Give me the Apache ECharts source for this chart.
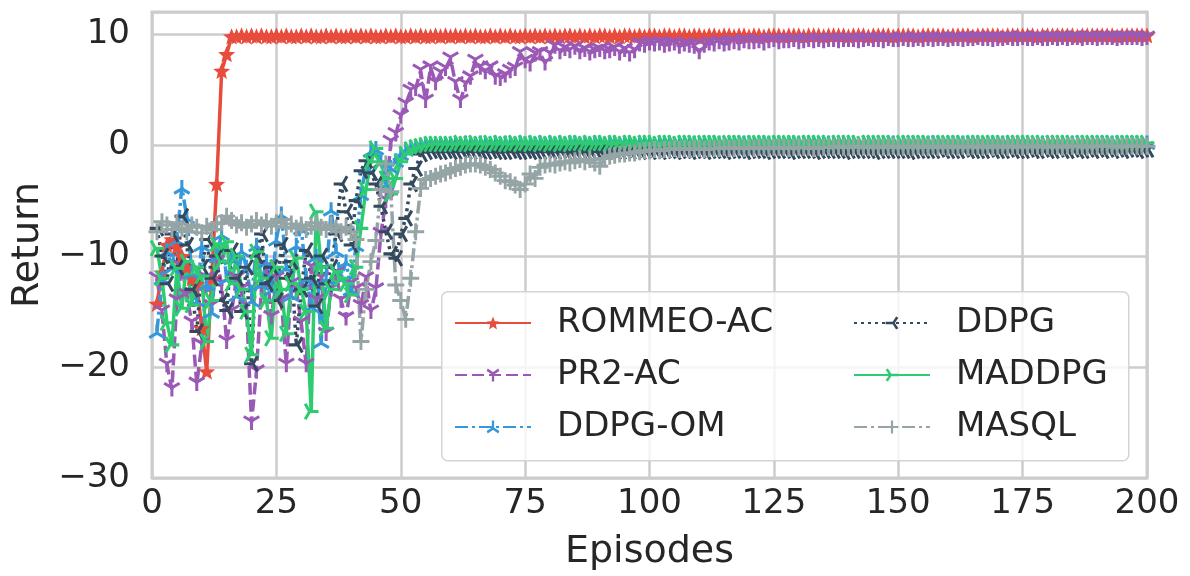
<!DOCTYPE html>
<html>
<head>
<meta charset="utf-8">
<script src="https://cdn.jsdelivr.net/npm/echarts@6/dist/echarts.min.js"></script>
<style>
  html, body { margin: 0; padding: 0; background: #fff; }
  #chart { width: 1190px; height: 576px; }
</style>
</head>
<body>
<div id="chart"></div>
<script>
// episodes 1..200
const episodes = Array.from({ length: 200 }, (_, i) => i + 1);
const xTicks = [0, 25, 50, 75, 100, 125, 150, 175, 200];
const yTicks = [-30, -20, -10, 0, 10];

const rommeoAC = [
  -14.3,-11.5,-9.0,-8.5,-9.2,-10.0,-11.0,-12.0,-12.5,-16.5,-20.4,-12.0,-3.5,6.7,8.2,9.8,9.8,9.9,9.8,9.9,
  9.8,9.9,9.8,9.8,9.9,9.8,9.9,9.8,9.8,9.9,9.8,9.9,9.8,9.8,9.9,9.8,9.9,9.8,9.8,9.9,
  9.8,9.9,9.8,9.9,9.8,9.8,9.9,9.8,9.9,9.8,9.8,9.9,9.8,9.9,9.8,9.8,9.9,9.8,9.9,9.8,
  9.9,9.8,9.9,9.8,9.9,9.8,9.8,9.9,9.8,9.9,9.8,9.9,9.8,9.8,9.9,9.8,9.9,9.8,9.9,9.8,
  9.9,9.8,9.9,9.9,9.8,9.9,9.8,9.9,9.8,9.9,9.9,9.8,9.9,9.8,9.9,9.9,9.8,9.9,9.8,9.9,
  9.9,9.8,9.9,9.9,9.8,9.9,9.9,9.8,9.9,9.9,9.8,9.9,9.9,9.8,9.9,9.9,9.8,9.9,9.9,9.8,
  9.9,9.9,9.8,9.9,9.9,9.9,9.8,9.9,9.9,9.9,9.8,9.9,9.9,9.9,9.8,9.9,9.9,9.9,9.9,9.8,
  9.9,9.9,9.9,9.8,9.9,9.9,9.9,9.9,9.8,9.9,9.9,9.9,9.9,9.8,9.9,9.9,9.9,9.9,9.9,9.8,
  9.9,9.9,9.9,9.9,9.8,9.9,9.9,9.9,9.9,9.9,9.8,9.9,9.9,9.9,9.9,9.9,9.9,9.8,9.9,9.9,
  9.9,9.9,9.9,9.9,9.9,9.8,9.9,9.9,9.9,9.9,9.9,9.9,9.9,9.8,9.9,9.9,9.9,9.9,9.9,9.9
];
const pr2AC = [
  -12.0,-15.0,-19.8,-22.0,-14.0,-11.0,-13.5,-16.0,-21.5,-18.0,-12.0,-14.5,-10.5,-12.5,-17.7,-15.0,-12.0,-13.0,-14.5,-25.0,
  -20.4,-13.0,-11.0,-15.5,-12.0,-14.0,-19.8,-12.5,-13.0,-16.0,-19.8,-11.0,-14.0,-12.0,-17.0,-13.0,-11.5,-14.0,-15.6,-12.5,
  -13.0,-14.5,-12.0,-15.0,-13.0,-8.0,-5.0,0.3,1.0,2.6,3.7,4.9,5.1,6.7,4.0,7.0,5.6,6.5,6.9,7.8,
  5.6,4.0,5.5,6.1,7.6,7.0,6.6,7.0,6.1,6.0,6.3,6.7,6.9,8.3,7.6,7.3,8.2,8.3,7.4,8.2,
  8.9,8.4,8.7,8.5,8.8,8.4,8.6,8.3,8.5,8.6,8.4,8.5,8.7,8.3,8.6,8.2,8.5,9.1,9.0,9.2,
  9.1,9.2,9.0,9.1,9.2,8.9,9.1,9.0,8.9,8.4,9.0,9.2,9.1,9.3,9.1,9.2,9.3,9.2,9.4,9.3,
  9.3,9.4,9.2,9.4,9.5,9.3,9.4,9.4,9.5,9.3,9.4,9.5,9.4,9.5,9.4,9.5,9.5,9.4,9.5,9.5,
  9.5,9.4,9.5,9.6,9.5,9.5,9.4,9.6,9.5,9.5,9.6,9.5,9.5,9.6,9.5,9.6,9.5,9.6,9.6,9.5,
  9.6,9.6,9.5,9.6,9.6,9.7,9.6,9.6,9.5,9.6,9.6,9.7,9.6,9.6,9.7,9.6,9.6,9.7,9.6,9.6,
  9.7,9.6,9.7,9.6,9.7,9.7,9.6,9.7,9.7,9.6,9.7,9.7,9.7,9.6,9.7,9.7,9.7,9.7,9.6,9.7
];
const ddpgOM = [
  -16.8,-12.0,-9.5,-11.0,-8.5,-3.8,-6.5,-11.5,-14.0,-9.0,-12.5,-15.0,-10.0,-8.0,-12.0,-10.2,-13.5,-9.5,-11.0,-14.0,
  -9.0,-12.5,-10.5,-13.0,-8.5,-6.2,-11.0,-13.5,-9.0,-7.5,-12.0,-14.5,-10.0,-17.7,-12.0,-5.8,-9.5,-12.0,-10.5,-13.0,
  -9.0,-4.4,-2.0,-0.5,-0.3,-1.5,-3.5,-2.0,-1.4,-0.8,-0.4,-0.2,-0.1,0.0,0.0,0.1,0.1,0.1,0.1,0.1,
  0.1,0.1,0.2,0.1,0.1,0.2,0.1,0.1,0.2,0.1,0.2,0.1,0.1,0.2,0.1,0.2,0.1,0.2,0.1,0.2,
  0.1,0.2,0.1,0.2,0.2,0.1,0.2,0.1,0.2,0.2,0.1,0.2,0.2,0.1,0.2,0.2,0.1,0.2,0.2,0.2,
  0.1,0.2,0.2,0.2,0.1,0.2,0.2,0.2,0.2,0.1,0.2,0.2,0.2,0.2,0.1,0.2,0.2,0.2,0.2,0.2,
  0.1,0.2,0.2,0.2,0.2,0.2,0.1,0.2,0.2,0.2,0.2,0.2,0.2,0.1,0.2,0.2,0.2,0.2,0.2,0.2,
  0.2,0.1,0.2,0.2,0.2,0.2,0.2,0.2,0.2,0.1,0.2,0.2,0.2,0.2,0.2,0.2,0.2,0.2,0.1,0.2,
  0.2,0.2,0.2,0.2,0.2,0.2,0.1,0.2,0.2,0.2,0.2,0.2,0.2,0.2,0.2,0.2,0.1,0.2,0.2,0.2,
  0.2,0.2,0.2,0.2,0.2,0.2,0.2,0.1,0.2,0.2,0.2,0.2,0.2,0.2,0.2,0.2,0.2,0.2,0.1,0.2
];
const ddpg = [
  -7.5,-10.0,-12.5,-8.0,-11.0,-6.4,-9.0,-13.0,-16.8,-11.0,-8.5,-12.0,-10.0,-14.0,-14.9,-9.5,-12.0,-15.0,-11.0,-19.7,
  -10.0,-8.0,-12.5,-11.0,-14.0,-9.0,-12.0,-10.5,-18.0,-13.0,-9.5,-12.0,-14.5,-10.0,-12.5,-11.0,-8.0,-3.5,-6.0,-9.0,
  -5.0,-2.3,-1.4,-2.5,-3.5,-5.5,-7.8,-9.8,-10.2,-8.0,-6.6,-3.5,-2.1,-0.8,-0.6,-0.5,-0.6,-0.6,-0.5,-0.6,
  -0.6,-0.5,-0.6,-0.6,-0.5,-0.6,-0.6,-0.5,-0.6,-0.6,-0.6,-0.5,-0.6,-0.6,-0.5,-0.6,-0.6,-0.6,-0.5,-0.6,
  -0.6,-0.5,-0.6,-0.6,-0.6,-0.5,-0.6,-0.6,-0.5,-0.6,-0.6,-0.5,-0.6,-0.6,-0.5,-0.6,-0.5,-0.6,-0.5,-0.6,
  -0.5,-0.6,-0.5,-0.5,-0.6,-0.5,-0.5,-0.6,-0.5,-0.5,-0.6,-0.5,-0.5,-0.5,-0.6,-0.5,-0.5,-0.5,-0.6,-0.5,
  -0.5,-0.5,-0.6,-0.5,-0.5,-0.5,-0.5,-0.6,-0.5,-0.5,-0.5,-0.5,-0.6,-0.5,-0.5,-0.5,-0.5,-0.5,-0.6,-0.5,
  -0.5,-0.5,-0.5,-0.5,-0.6,-0.5,-0.5,-0.5,-0.5,-0.5,-0.5,-0.6,-0.5,-0.5,-0.5,-0.5,-0.5,-0.4,-0.5,-0.5,
  -0.5,-0.5,-0.4,-0.5,-0.5,-0.5,-0.5,-0.4,-0.5,-0.5,-0.5,-0.4,-0.5,-0.5,-0.5,-0.4,-0.5,-0.5,-0.4,-0.5,
  -0.5,-0.4,-0.5,-0.5,-0.4,-0.5,-0.5,-0.4,-0.5,-0.4,-0.5,-0.4,-0.5,-0.4,-0.5,-0.4,-0.4,-0.5,-0.4,-0.4
];
const maddpg = [
  -9.3,-12.0,-16.0,-18.0,-11.1,-14.7,-10.5,-14.4,-11.0,-11.8,-17.7,-14.0,-8.9,-10.5,-8.7,-12.5,-10.0,-13.0,-15.0,-18.9,
  -9.6,-12.0,-14.0,-17.4,-11.0,-13.0,-17.0,-12.5,-10.2,-13.0,-15.0,-24.0,-6.0,-11.0,-16.5,-13.0,-11.4,-12.0,-12.5,-13.5,
  -11.0,-7.5,-4.0,-1.5,-0.3,-1.5,-3.0,-4.4,-3.0,-1.5,-0.8,-0.4,-0.2,-0.1,0.0,0.1,0.1,0.1,0.1,0.1,
  0.1,0.2,0.1,0.1,0.2,0.1,0.1,0.2,0.1,0.2,0.1,0.1,0.2,0.1,0.2,0.1,0.2,0.1,0.2,0.1,
  0.2,0.1,0.2,0.1,0.2,0.2,0.1,0.2,0.1,0.2,0.2,0.1,0.2,0.2,0.1,0.2,0.2,0.1,0.2,0.2,
  0.2,0.1,0.2,0.2,0.2,0.1,0.2,0.2,0.2,0.1,0.2,0.2,0.2,0.2,0.1,0.2,0.2,0.2,0.2,0.1,
  0.2,0.2,0.2,0.2,0.1,0.2,0.2,0.2,0.2,0.2,0.1,0.2,0.2,0.2,0.2,0.2,0.1,0.2,0.2,0.2,
  0.2,0.2,0.1,0.2,0.2,0.2,0.2,0.2,0.2,0.1,0.2,0.2,0.2,0.2,0.2,0.2,0.1,0.2,0.2,0.2,
  0.2,0.2,0.2,0.1,0.2,0.2,0.2,0.2,0.2,0.2,0.2,0.1,0.2,0.2,0.2,0.2,0.2,0.2,0.2,0.1,
  0.2,0.2,0.2,0.2,0.2,0.1,0.2,0.2,0.2,0.2,0.2,0.2,0.2,0.1,0.2,0.2,0.2,0.2,0.2,0.2
];
const masql = [
  -7.8,-6.9,-7.2,-7.6,-7.0,-7.5,-7.8,-7.2,-7.4,-7.9,-7.3,-7.6,-7.1,-7.0,-6.4,-6.8,-7.2,-7.0,-7.4,-7.1,
  -6.8,-7.2,-6.9,-7.3,-7.0,-6.7,-7.4,-7.1,-7.5,-7.2,-7.6,-7.3,-7.0,-7.4,-7.6,-7.2,-7.5,-7.8,-7.4,-7.8,
  -8.5,-17.7,-13.0,-10.5,-8.6,-4.0,-1.7,-4.2,-12.6,-14.0,-15.7,-12.0,-7.8,-3.9,-3.1,-3.0,-2.8,-2.6,-2.5,-2.3,
  -2.1,-2.0,-1.8,-1.7,-1.7,-1.8,-2.0,-2.2,-2.5,-2.8,-3.2,-3.3,-3.6,-4.0,-3.5,-2.6,-3.0,-2.0,-1.8,-1.7,
  -1.8,-1.6,-1.5,-1.6,-1.4,-1.3,-1.5,-1.3,-1.6,-1.9,-1.2,-1.0,-0.9,-0.8,-0.8,-0.7,-0.7,-0.6,-0.5,-0.5,
  -0.4,-0.5,-0.4,-0.4,-0.3,-0.4,-0.3,-0.4,-0.3,-0.3,-0.4,-0.3,-0.3,-0.3,-0.2,-0.3,-0.3,-0.2,-0.3,-0.2,
  -0.3,-0.2,-0.2,-0.3,-0.2,-0.2,-0.2,-0.3,-0.2,-0.2,-0.2,-0.2,-0.3,-0.2,-0.2,-0.2,-0.2,-0.1,-0.2,-0.2,
  -0.2,-0.1,-0.2,-0.2,-0.2,-0.1,-0.2,-0.2,-0.1,-0.2,-0.2,-0.1,-0.2,-0.1,-0.2,-0.2,-0.1,-0.2,-0.1,-0.2,
  -0.1,-0.2,-0.1,-0.2,-0.1,-0.1,-0.2,-0.1,-0.2,-0.1,-0.1,-0.2,-0.1,-0.1,-0.2,-0.1,-0.1,-0.1,-0.2,-0.1,
  -0.1,-0.1,-0.2,-0.1,-0.1,-0.1,-0.1,-0.2,-0.1,-0.1,-0.1,-0.1,-0.1,-0.2,-0.1,-0.1,-0.1,-0.1,-0.1,-0.1
];

const seriesNames = ['ROMMEO-AC', 'PR2-AC', 'DDPG-OM', 'DDPG', 'MADDPG', 'MASQL'];
const seriesValues = [rommeoAC, pr2AC, ddpgOM, ddpg, maddpg, masql];
const colors = ['#e74c3c', '#9b59b6', '#3498db', '#34495e', '#2ecc71', '#95a5a6'];
const dashes = ['solid', [12, 5], [13, 4, 3, 4], [3, 4], 'solid', [13, 4, 3, 4]];

// marker shapes (matplotlib-like)
function arms(dirs) {
  const t = 1.7, L = 10;
  let d = '';
  dirs.forEach(function (v) {
    const nx = -v[1] * t, ny = v[0] * t, ex = v[0] * L, ey = v[1] * L;
    d += 'M' + nx + ',' + ny + 'L' + (ex + nx) + ',' + (ey + ny) + 'L' + (ex - nx) + ',' + (ey - ny) + 'L' + (-nx) + ',' + (-ny) + 'Z';
  });
  return 'path://' + d;
}
function star() {
  let d = '';
  for (let i = 0; i < 10; i++) {
    const r = i % 2 ? 4.4 : 10;
    const a = -Math.PI / 2 + i * Math.PI / 5;
    d += (i ? 'L' : 'M') + (r * Math.cos(a)).toFixed(2) + ',' + (r * Math.sin(a)).toFixed(2);
  }
  return 'path://' + d + 'Z';
}
const s = 0.866;
const symbols = [
  star(),
  arms([[0, 1], [-s, -0.5], [s, -0.5]]),   // tri_down
  arms([[0, -1], [-s, 0.5], [s, 0.5]]),    // tri_up
  arms([[-1, 0], [0.5, -s], [0.5, s]]),    // tri_left
  arms([[1, 0], [-0.5, -s], [-0.5, s]]),   // tri_right
  'path://M-1.7,-10L1.7,-10L1.7,-1.7L10,-1.7L10,1.7L1.7,1.7L1.7,10L-1.7,10L-1.7,1.7L-10,1.7L-10,-1.7L-1.7,-1.7Z'
];

const chart = echarts.init(document.getElementById('chart'));
const font = 'DejaVu Sans';
const minus = v => String(v).replace('-', '\u2212');

const legendBase = {
  orient: 'vertical',
  top: 305,
  padding: 0,
  itemWidth: 76,
  itemHeight: 16,
  itemGap: 16,
  z: 60,
  textStyle: { fontFamily: font, fontSize: 34, color: '#262626', lineHeight: 36, padding: [0, 0, 0, 21] }
};

chart.setOption({
  animation: false,
  backgroundColor: '#ffffff',
  grid: {
    left: 152, right: 43, top: 12, bottom: 98,
    show: true, borderColor: '#cccccc', borderWidth: 3, backgroundColor: 'transparent'
  },
  xAxis: {
    type: 'value', min: 0, max: 200, interval: 25,
    name: 'Episodes', nameLocation: 'middle', nameGap: 55,
    nameTextStyle: { fontFamily: font, fontSize: 38, color: '#262626' },
    axisLine: { show: false }, axisTick: { show: false },
    axisLabel: { fontFamily: font, fontSize: 34, color: '#262626', margin: 9,
      formatter: v => xTicks.indexOf(v) >= 0 ? String(v) : '' },
    splitLine: { lineStyle: { color: '#cccccc', width: 2.5 } }
  },
  yAxis: {
    type: 'value', min: -30, max: 12, interval: 10,
    name: 'Return', nameLocation: 'middle', nameGap: 103,
    nameTextStyle: { fontFamily: font, fontSize: 38, color: '#262626' },
    axisLine: { show: false }, axisTick: { show: false },
    axisLabel: { fontFamily: font, fontSize: 34, color: '#262626', margin: 22,
      formatter: v => yTicks.indexOf(v) >= 0 ? minus(v) : '' },
    splitLine: { lineStyle: { color: '#cccccc', width: 2.5 } }
  },
  legend: [
    Object.assign({}, legendBase, { left: 454, data: seriesNames.slice(0, 3) }),
    Object.assign({}, legendBase, { left: 853, data: seriesNames.slice(3) })
  ],
  graphic: [{
    type: 'rect', left: 441, top: 291, z: 50,
    shape: { width: 687, height: 169, r: 6 },
    style: { fill: 'rgba(255,255,255,0.8)', stroke: '#d4d4d4', lineWidth: 1.5 }
  }],
  series: seriesNames.map((name, k) => ({
    name: name,
    type: 'line',
    data: episodes.map((e, i) => [e, seriesValues[k][i]]),
    symbol: symbols[k],
    symbolSize: 17,
    symbolKeepAspect: true,
    showAllSymbol: true,
    color: colors[k],
    lineStyle: { color: colors[k], width: 3.5, type: dashes[k] },
    itemStyle: { color: colors[k], borderWidth: 0 },
    emphasis: { disabled: true }
  }))
});
</script>
</body>
</html>
